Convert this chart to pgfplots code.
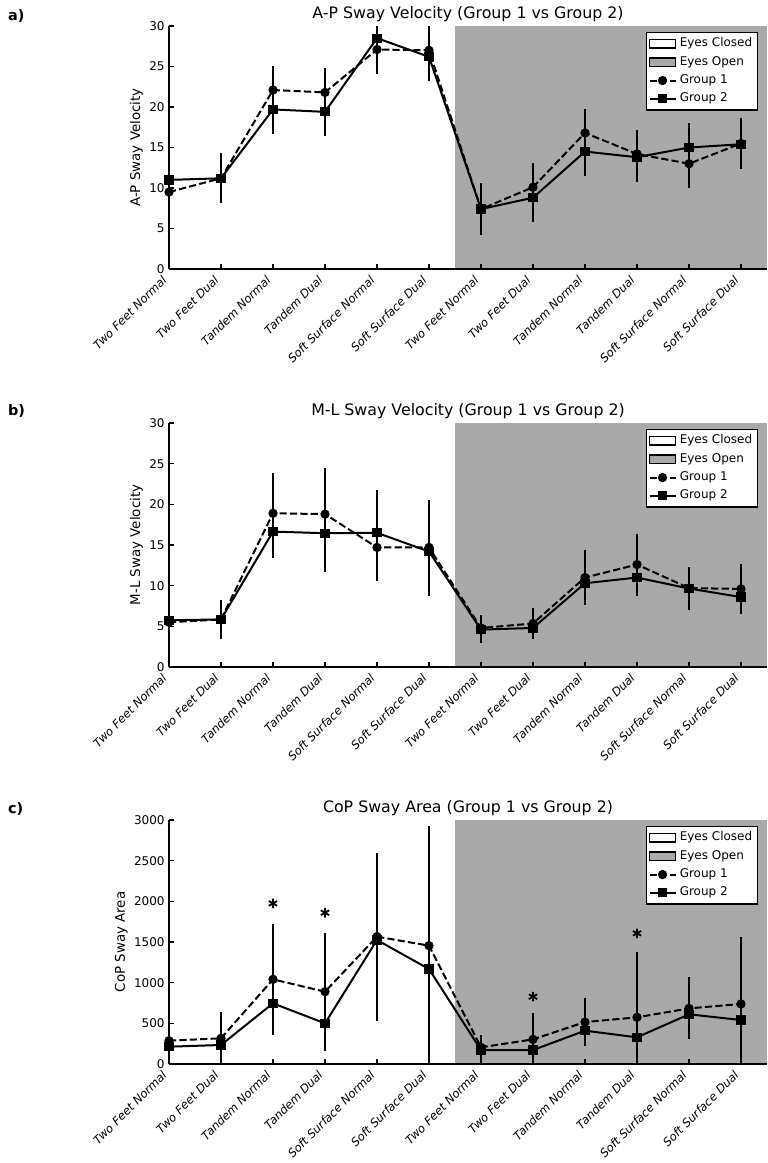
\documentclass[border=0pt]{standalone}
\usepackage{fontspec}
\setmainfont{DejaVu Sans}
\usepackage{pgfplots}
\usepackage{pgfplotstable}
\pgfplotsset{compat=1.18}
\definecolor{eogray}{RGB}{169,169,169}

\pgfplotstableread{
x g1 e1 g2 e2
0 9.5 3.0 11.0 3.0
1 11.2 3.0 11.2 3.1
2 22.1 3.0 19.7 3.0
3 21.8 3.0 19.4 3.0
4 27.1 3.0 28.5 3.0
5 27.0 3.0 26.2 3.0
6 7.4 3.1 7.4 3.2
7 10.1 3.0 8.8 3.0
8 16.8 3.0 14.5 3.0
9 14.2 2.9 13.8 3.0
10 13.0 3.0 15.0 3.0
11 15.5 3.1 15.4 3.1
}\tabA

\pgfplotstableread{
x g1 e1 g2 e2
0 5.5 1.0 5.75 1.0
1 5.85 2.4 5.85 2.4
2 18.9 4.9 16.65 3.3
3 18.8 5.7 16.45 4.75
4 14.7 4.1 16.5 5.3
5 14.7 5.8 14.2 5.5
6 4.8 1.65 4.6 1.6
7 5.35 1.85 4.8 1.3
8 11.0 3.4 10.3 2.6
9 12.6 3.8 11.0 2.3
10 9.7 2.5 9.65 2.6
11 9.6 3.05 8.6 2.0
}\tabB

\pgfplotstableread{
x g1 e1 g2 e2
0 287 200 213 200
1 316 327 234 250
2 1041 680 746 380
3 889 726 500 330
4 1566 1025 1525 1000
5 1455 1470 1168 1170
6 205 152 172 175
7 303 328 172 170
8 516 291 410 190
9 574 800 328 330
10 684 382 611 300
11 738 828 541 540
}\tabC

\pgfplotsset{
  swaystyle/.style={
    scale only axis, width=299pt,
    xmin=0, xmax=11.5,
    axis lines*=left,
    axis line style={line width=1pt,-},
    axis on top,
    tick align=inside,
    major tick length=2.5pt,
    tick style={line width=0.8pt, black},
    xtick={0,...,11},
    xticklabels={Two Feet Normal, Two Feet Dual, Tandem Normal, Tandem Dual, Soft Surface Normal, Soft Surface Dual, Two Feet Normal, Two Feet Dual, Tandem Normal, Tandem Dual, Soft Surface Normal, Soft Surface Dual},
    xticklabel style={yshift=-4pt, xshift=-1.8pt, rotate=45, anchor=east, font=\fontsize{5.8}{7}\selectfont\itshape, inner sep=0.5pt},
    yticklabel style={font=\fontsize{6}{7}\selectfont, inner sep=1pt, xshift=-1pt},
    /pgf/number format/assume math mode=true,
    /pgf/number format/1000 sep={},
    scaled y ticks=false,
    ylabel style={font=\fontsize{6.7}{8}\selectfont, inner sep=0pt, yshift=2pt},
    title style={font=\fontsize{7.9}{9}\selectfont, at={(0.5,1)}, anchor=base, yshift=-2pt},
    legend style={at={(rel axis cs:1,1)}, anchor=north east, xshift=-4.5pt, yshift=-3pt,
      draw=black, line width=0.6pt, font=\fontsize{6}{7}\selectfont, inner sep=1pt,
      row sep=0pt, nodes={inner sep=1.6pt}},
    legend cell align=left,
  },
  g1/.style={black, line width=1pt, dash pattern=on 3.6pt off 1.6pt,
    mark=*, mark size=1.8pt, mark options={solid, fill=black},
    error bars/y dir=both, error bars/y explicit, error bars/error mark=none,
    error bars/error bar style={solid, line width=1.1pt},
    legend image code/.code={\draw[mark repeat=2,mark phase=2,##1] plot coordinates {(0pt,0pt) (6.5pt,0pt) (13pt,0pt)};}},
  g2/.style={black, line width=1pt, solid,
    mark=square*, mark size=1.8pt, mark options={solid, fill=black},
    error bars/y dir=both, error bars/y explicit, error bars/error mark=none,
    error bars/error bar style={solid, line width=1.1pt},
    legend image code/.code={\draw[mark repeat=2,mark phase=2,##1] plot coordinates {(0pt,0pt) (6.5pt,0pt) (13pt,0pt)};}},
  patchleg/.style={legend image code/.code={\draw[##1] (0pt,-2.1pt) rectangle (13pt,2.1pt);}},
}

\begin{document}
\begin{tikzpicture}
\useasboundingbox (0,0) rectangle (383.5pt,-581.5pt);

% Panel a
\begin{axis}[swaystyle, height=121.5pt, at={(84.5pt,-134.5pt)}, anchor=south west,
  ymin=0, ymax=30, ytick={0,5,...,30},
  ylabel={A-P Sway Velocity}, title={A-P Sway Velocity (Group 1 vs Group 2)}]
\addplot[fill=eogray, draw=none, forget plot] coordinates {(5.5,0) (5.5,30) (11.5,30) (11.5,0)} -- cycle;
\addlegendimage{patchleg, draw=black, fill=white, line width=0.6pt}
\addlegendentry{Eyes Closed}
\addlegendimage{patchleg, draw=black, fill=eogray, line width=0.6pt}
\addlegendentry{Eyes Open}
\addplot[g1] table[x=x, y=g1, y error=e1] {\tabA};
\addlegendentry{Group 1}
\addplot[g2] table[x=x, y=g2, y error=e2] {\tabA};
\addlegendentry{Group 2}
\end{axis}

% Panel b
\begin{axis}[swaystyle, height=122pt, at={(84.5pt,-333.5pt)}, anchor=south west,
  ymin=0, ymax=30, ytick={0,5,...,30},
  ylabel={M-L Sway Velocity}, title={M-L Sway Velocity (Group 1 vs Group 2)}]
\addplot[fill=eogray, draw=none, forget plot] coordinates {(5.5,0) (5.5,30) (11.5,30) (11.5,0)} -- cycle;
\addlegendimage{patchleg, draw=black, fill=white, line width=0.6pt}
\addlegendentry{Eyes Closed}
\addlegendimage{patchleg, draw=black, fill=eogray, line width=0.6pt}
\addlegendentry{Eyes Open}
\addplot[g1] table[x=x, y=g1, y error=e1] {\tabB};
\addlegendentry{Group 1}
\addplot[g2] table[x=x, y=g2, y error=e2] {\tabB};
\addlegendentry{Group 2}
\end{axis}

% Panel c
\begin{axis}[swaystyle, height=122pt, at={(84.5pt,-532pt)}, anchor=south west,
  ymin=0, ymax=3000, ytick={0,500,...,3000},
  ylabel={CoP Sway Area}, title={CoP Sway Area (Group 1 vs Group 2)}]
\addplot[fill=eogray, draw=none, forget plot] coordinates {(5.5,0) (5.5,3000) (11.5,3000) (11.5,0)} -- cycle;
\addlegendimage{patchleg, draw=black, fill=white, line width=0.6pt}
\addlegendentry{Eyes Closed}
\addlegendimage{patchleg, draw=black, fill=eogray, line width=0.6pt}
\addlegendentry{Eyes Open}
\addplot[g1] table[x=x, y=g1, y error=e1] {\tabC};
\addlegendentry{Group 1}
\addplot[g2] table[x=x, y=g2, y error=e2] {\tabC};
\addlegendentry{Group 2}
\addplot[only marks, mark=asterisk, mark size=2.4pt, line width=0.9pt, black, forget plot]
  coordinates {(2,1975) (3,1860) (7,828) (9,1607)};
\end{axis}

\node[anchor=west, font=\bfseries\fontsize{7.2}{9}\selectfont] at (0.5pt,-8pt) {a)};
\node[anchor=west, font=\bfseries\fontsize{7.2}{9}\selectfont] at (0.5pt,-205.5pt) {b)};
\node[anchor=west, font=\bfseries\fontsize{7.2}{9}\selectfont] at (0.5pt,-404.5pt) {c)};
\end{tikzpicture}
\end{document}
